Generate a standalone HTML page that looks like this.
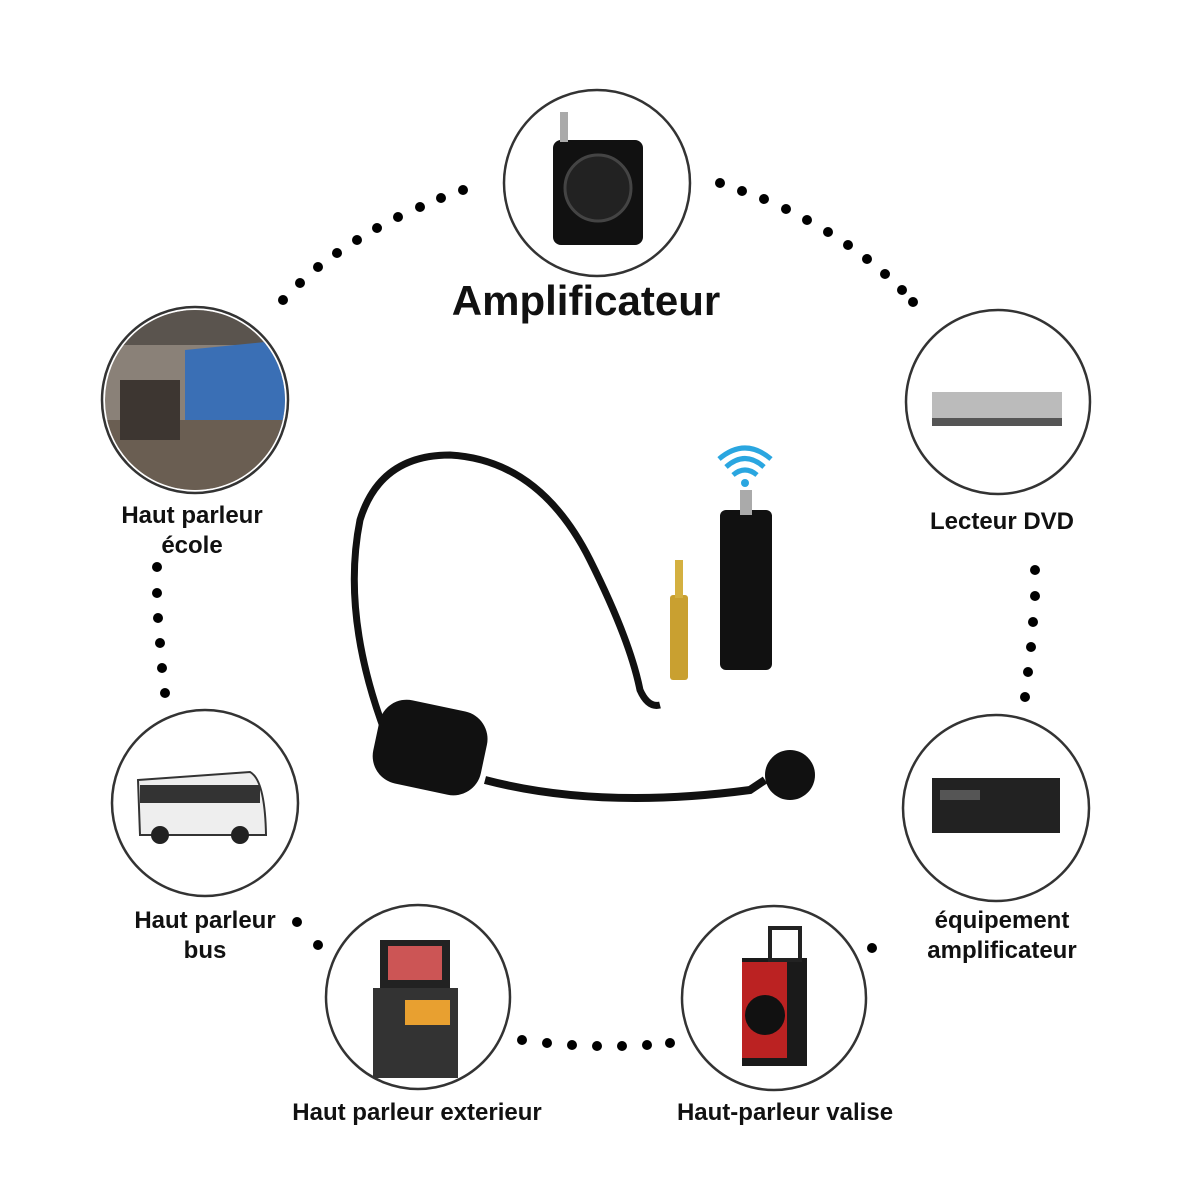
<!DOCTYPE html>
<html><head><meta charset="utf-8"><style>
body{margin:0;background:#fff;width:1200px;height:1200px;overflow:hidden;font-family:"Liberation Sans","DejaVu Sans",sans-serif}
.t{position:absolute;text-align:center;color:#111;font-size:24px;font-weight:bold;line-height:30px;transform:translateX(-50%);white-space:nowrap}
</style></head><body>
<svg width="1200" height="1200" style="position:absolute;left:0;top:0">
<defs>
<clipPath id="c1"><circle cx="195" cy="400" r="90"/></clipPath>
</defs>
<g fill="none" stroke="#333" stroke-width="2.5">
<circle cx="597" cy="183" r="93"/>
<circle cx="195" cy="400" r="93"/>
<circle cx="998" cy="402" r="92"/>
<circle cx="205" cy="803" r="93"/>
<circle cx="996" cy="808" r="93"/>
<circle cx="418" cy="997" r="92"/>
<circle cx="774" cy="998" r="92"/>
</g>
<g clip-path="url(#c1)">
<rect x="100" y="305" width="190" height="190" fill="#8a8178"/>
<rect x="100" y="305" width="190" height="40" fill="#5a544e"/>
<polygon points="185,350 285,340 285,440 185,420" fill="#3a6fb5"/>
<rect x="100" y="420" width="190" height="80" fill="#6a5e52"/>
<rect x="120" y="380" width="60" height="60" fill="#3d3631"/>
</g>
<rect x="553" y="140" width="90" height="105" rx="8" fill="#111"/>
<circle cx="598" cy="188" r="33" fill="#222" stroke="#444" stroke-width="3"/>
<rect x="560" y="112" width="8" height="30" fill="#aaa"/>
<rect x="932" y="392" width="130" height="26" fill="#bbb"/>
<rect x="932" y="418" width="130" height="8" fill="#555"/>
<path d="M138 780 L250 772 Q265 780 266 835 L140 835 Z" fill="#eee" stroke="#333" stroke-width="2"/>
<rect x="140" y="785" width="120" height="18" fill="#333"/>
<circle cx="160" cy="835" r="9" fill="#222"/><circle cx="240" cy="835" r="9" fill="#222"/>
<rect x="932" y="778" width="128" height="55" fill="#222"/>
<rect x="940" y="790" width="40" height="10" fill="#555"/>
<rect x="380" y="940" width="70" height="50" fill="#222"/>
<rect x="388" y="946" width="54" height="34" fill="#c55"/>
<rect x="373" y="988" width="85" height="90" fill="#333"/>
<rect x="405" y="1000" width="45" height="25" fill="#e8a030"/>
<rect x="742" y="958" width="65" height="108" fill="#1a1a1a"/>
<rect x="742" y="962" width="45" height="96" fill="#b22"/>
<circle cx="765" cy="1015" r="20" fill="#111"/>
<rect x="770" y="928" width="30" height="32" fill="none" stroke="#222" stroke-width="4"/>
<g fill="#000">
<circle cx="283" cy="300" r="5"/><circle cx="300" cy="283" r="5"/><circle cx="318" cy="267" r="5"/><circle cx="337" cy="253" r="5"/><circle cx="357" cy="240" r="5"/><circle cx="377" cy="228" r="5"/><circle cx="398" cy="217" r="5"/><circle cx="420" cy="207" r="5"/><circle cx="441" cy="198" r="5"/><circle cx="463" cy="190" r="5"/>
<circle cx="720" cy="183" r="5"/><circle cx="742" cy="191" r="5"/><circle cx="764" cy="199" r="5"/><circle cx="786" cy="209" r="5"/><circle cx="807" cy="220" r="5"/><circle cx="828" cy="232" r="5"/><circle cx="848" cy="245" r="5"/><circle cx="867" cy="259" r="5"/><circle cx="885" cy="274" r="5"/><circle cx="902" cy="290" r="5"/><circle cx="913" cy="302" r="5"/>
<circle cx="157" cy="567" r="5"/><circle cx="157" cy="593" r="5"/><circle cx="158" cy="618" r="5"/><circle cx="160" cy="643" r="5"/><circle cx="162" cy="668" r="5"/><circle cx="165" cy="693" r="5"/>
<circle cx="1035" cy="570" r="5"/><circle cx="1035" cy="596" r="5"/><circle cx="1033" cy="622" r="5"/><circle cx="1031" cy="647" r="5"/><circle cx="1028" cy="672" r="5"/><circle cx="1025" cy="697" r="5"/>
<circle cx="297" cy="922" r="5"/><circle cx="318" cy="945" r="5"/>
<circle cx="522" cy="1040" r="5"/><circle cx="547" cy="1043" r="5"/><circle cx="572" cy="1045" r="5"/><circle cx="597" cy="1046" r="5"/><circle cx="622" cy="1046" r="5"/><circle cx="647" cy="1045" r="5"/><circle cx="670" cy="1043" r="5"/>
<circle cx="872" cy="948" r="5"/>
</g>
<path d="M390 745 Q340 620 360 520 Q380 455 450 455 Q540 460 590 560 Q630 640 640 690 Q648 708 660 705" fill="none" stroke="#111" stroke-width="7"/>
<path d="M485 780 Q600 810 750 790 L765 780" fill="none" stroke="#111" stroke-width="8"/>
<circle cx="790" cy="775" r="25" fill="#111"/>
<rect x="375" y="705" width="110" height="85" rx="28" fill="#111" transform="rotate(12 430 748)"/>
<rect x="720" y="510" width="52" height="160" rx="6" fill="#111"/>
<rect x="740" y="490" width="12" height="25" fill="#aaa"/>
<rect x="670" y="595" width="18" height="85" rx="3" fill="#c9a030"/>
<rect x="675" y="560" width="8" height="38" fill="#d4b040"/>
<g fill="none" stroke="#2aa6e0" stroke-width="5"><path d="M733 475 Q745 465 757 475"/><path d="M726 467 Q745 450 764 467"/><path d="M719 459 Q745 437 771 459"/></g>
<circle cx="745" cy="483" r="4" fill="#2aa6e0"/>
</svg>
<div class="t" style="left:586px;top:276px;font-size:42px;line-height:50px;font-weight:bold">Amplificateur</div>
<div class="t" style="left:192px;top:501px">Haut parleur<br>école</div>
<div class="t" style="left:1002px;top:507px">Lecteur DVD</div>
<div class="t" style="left:205px;top:906px">Haut parleur<br>bus</div>
<div class="t" style="left:1002px;top:906px">équipement<br>amplificateur</div>
<div class="t" style="left:417px;top:1098px">Haut parleur exterieur</div>
<div class="t" style="left:785px;top:1098px">Haut-parleur valise</div>
</body></html>
